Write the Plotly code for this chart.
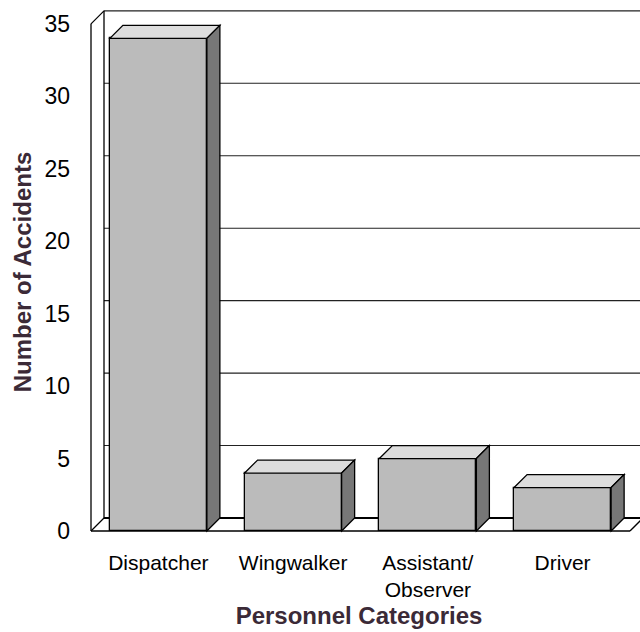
import plotly.graph_objects as go

# Accident counts by personnel category
categories = ["Dispatcher", "Wingwalker", "Assistant/<br>Observer", "Driver"]
accidents = [34, 4, 5, 3]
y_ticks = [0, 5, 10, 15, 20, 25, 30, 35]

# --- page geometry (pixels) ---
W, H = 640, 632
ML, MR, MT, MB = 78, 0, 4, 92
FRONT_X0 = 91          # pixel of the front-left corner of the floor
FRONT_Y0 = 531         # pixel of the front floor edge (value 0)
UX = 134.75            # pixels per category slot
UY = 14.49             # pixels per accident
DEPTH = 13             # oblique depth in pixels

dx = DEPTH / UX        # depth offset in x data units
dy = DEPTH / UY        # depth offset in y data units
bar_w = 0.72
ymax = y_ticks[-1]
n = len(categories)

x_range = [(ML - FRONT_X0) / UX, (W - MR - FRONT_X0) / UX]
y_range = [-(H - MB - FRONT_Y0) / UY, (FRONT_Y0 - MT) / UY]

FRONT = "#bbbbbb"
TOP = "#dddddd"
SIDE = "#777777"
EDGE = "#000000"
FONT = "Liberation Sans, Arial, sans-serif"
TITLE_COLOR = "#3b2a37"

shapes = []


def seg(x0, y0, x1, y1, width=1.3, color=EDGE, layer="below"):
    shapes.append(dict(type="line", xref="x", yref="y", x0=x0, y0=y0, x1=x1, y1=y1,
                       line=dict(color=color, width=width), layer=layer))


def poly(pts, fill, layer="above"):
    path = "M " + " L ".join(f"{px},{py}" for px, py in pts) + " Z"
    shapes.append(dict(type="path", xref="x", yref="y", path=path, fillcolor=fill,
                       line=dict(color=EDGE, width=1.3), layer=layer))


# back wall gridlines and top edge
for v in y_ticks[1:]:
    seg(dx, v + dy, n + dx, v + dy, width=1.1, color="#222222")
# left wall
seg(dx, dy, dx, ymax + dy)
seg(0, 0, 0, ymax)
seg(0, ymax, dx, ymax + dy)
seg(0, 0, dx, dy)
# floor
seg(dx, dy, n + dx, dy, width=2)
seg(0, 0, n, 0, width=1.5)
seg(n, 0, n + dx, dy, width=1.3)

# top and side faces of each bar
for i, v in enumerate(accidents):
    x0 = i + 0.5 - bar_w / 2
    x1 = i + 0.5 + bar_w / 2
    poly([(x0, v), (x0 + dx, v + dy), (x1 + dx, v + dy), (x1, v)], TOP)
    poly([(x1, 0), (x1 + dx, dy), (x1 + dx, v + dy), (x1, v)], SIDE)

fig = go.Figure()
fig.add_trace(go.Bar(
    x=[i + 0.5 for i in range(n)], y=accidents, width=bar_w,
    marker=dict(color=FRONT, line=dict(color=EDGE, width=1.3)),
    hoverinfo="skip", showlegend=False,
))

fig.update_layout(
    width=W, height=H,
    margin=dict(l=ML, r=MR, t=MT, b=MB, autoexpand=False),
    paper_bgcolor="white", plot_bgcolor="white",
    font=dict(family=FONT, size=20, color="black"),
    shapes=shapes,
    bargap=0,
    xaxis=dict(
        range=x_range, showgrid=False, zeroline=False, showline=False,
        tickmode="array", tickvals=[i + 0.5 for i in range(n)], ticktext=categories,
        ticks="", ticklabelstandoff=8, tickfont=dict(size=21),
        title=dict(text="<b>Personnel Categories</b>", standoff=6,
                   font=dict(size=24, color=TITLE_COLOR)),
    ),
    yaxis=dict(
        range=y_range, showgrid=False, zeroline=False, showline=False,
        tickmode="array", tickvals=y_ticks, ticks="", ticklabelstandoff=7,
        tickfont=dict(size=23),
        title=dict(text="<b>Number of Accidents</b>", standoff=6,
                   font=dict(size=24, color=TITLE_COLOR)),
    ),
)

fig.write_html("out.html")
